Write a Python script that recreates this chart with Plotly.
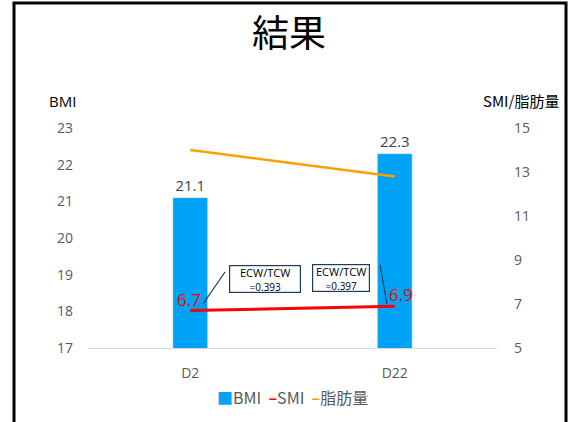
import plotly.graph_objects as go

categories = ["D2", "D22"]
bmi = [21.1, 22.3]
smi = [6.7, 6.9]
fat = [14.0, 12.8]
ecw_labels = ["ECW/TCW<br>=0.393", "ECW/TCW<br>=0.397"]
left_ticks = [17, 18, 19, 20, 21, 22, 23]
right_ticks = [5, 7, 9, 11, 13, 15]
series_names = ["BMI", "SMI", "脂肪量"]
series_colors = ["#00A2F5", "#FF0000", "#FFA000"]

W, H = 578, 422
def px(x):
    return x / W
def py(y):
    return 1 - y / H

FONT = "Noto Sans CJK JP, Open Sans, sans-serif"
TICK = dict(family="Open Sans, Noto Sans, sans-serif", size=14, color="#595959")

fig = go.Figure()
fig.add_trace(go.Bar(
    x=categories, y=bmi, name=series_names[0], marker_color=series_colors[0], width=0.17,
    text=[f"{v:.1f}" for v in bmi], textposition="outside",
    textfont=dict(family="Open Sans, sans-serif", size=15, color="#404040"),
    cliponaxis=False,
))
fig.add_trace(go.Scatter(
    x=categories, y=smi, name=series_names[1], yaxis="y2", mode="lines",
    line=dict(color=series_colors[1], width=3),
))
fig.add_trace(go.Scatter(
    x=categories, y=fat, name=series_names[2], yaxis="y2", mode="lines",
    line=dict(color=series_colors[2], width=2.5),
))

def ann(text, x, y, size, color="#000000", family=FONT, **kw):
    d = dict(text=text, x=x, y=y, xref="paper", yref="paper", showarrow=False,
             xanchor="center", yanchor="middle", font=dict(family=family, size=size, color=color))
    d.update(kw)
    return d

legend_text = (
    f"<span style='color:{series_colors[0]}'>■</span>{series_names[0]}  "
    f"<span style='color:{series_colors[1]}'><b>–</b></span>{series_names[1]}  "
    f"<span style='color:{series_colors[2]}'><b>–</b></span>{series_names[2]}"
)

annotations = [
    ann("結果", 0.5, py(31), 37),
    ann("BMI", px(62), py(101), 15, family="Open Sans, sans-serif"),
    ann("SMI/脂肪量", px(521), py(101), 15),
    ann(legend_text, px(292), py(397), 16, color="#595959"),
    dict(text=f"{smi[0]}", x=categories[0], y=smi[0], xref="x", yref="y2", showarrow=False,
         xanchor="right", yanchor="middle", yshift=11, xshift=13,
         font=dict(family="Open Sans, sans-serif", size=17, color="#FF0000")),
    dict(text=f"{smi[1]}", x=categories[1], y=smi[1], xref="x", yref="y2", showarrow=False,
         xanchor="left", yanchor="middle", yshift=12, xshift=-8,
         font=dict(family="Open Sans, sans-serif", size=17, color="#FF0000")),
]
box_specs = [(265, 279, 68), (341, 278, 54)]
for (bx, by, bw), lab in zip(box_specs, ecw_labels):
    t1, t2 = lab.split("<br>")
    annotations.append(ann(
        f"{t1}<br><span style='font-size:10px'>{t2}</span>", px(bx), py(by), 11,
        family="Open Sans, sans-serif", width=bw, height=24,
        bordercolor="#203864", borderwidth=1.2, borderpad=1, bgcolor="white",
    ))

shapes = [
    dict(type="rect", xref="paper", yref="paper", x0=px(14), x1=px(566), y0=py(3), y1=-0.1,
         line=dict(color="black", width=3), layer="above"),
    dict(type="line", xref="paper", yref="paper", x0=px(225), y0=py(272), x1=px(203), y1=py(304),
         line=dict(color="#203864", width=1.2)),
    dict(type="line", xref="paper", yref="paper", x0=px(380), y0=py(265), x1=px(387), y1=py(304),
         line=dict(color="#203864", width=1.2)),
]

fig.update_layout(
    width=W, height=H, margin=dict(l=0, r=0, t=0, b=0, autoexpand=False),
    paper_bgcolor="white", plot_bgcolor="white", showlegend=False,
    xaxis=dict(domain=[px(88), px(497)], showgrid=False, showline=True, linecolor="#D9D9D9",
               linewidth=1, tickfont=TICK, ticks="", ticklabelstandoff=12, automargin=False),
    yaxis=dict(domain=[1 - 348 / H, 1 - 128 / H], range=[17, 23], tickvals=left_ticks,
               showgrid=False, zeroline=False, tickfont=TICK, ticks="", ticklabelstandoff=14,
               automargin=False),
    yaxis2=dict(overlaying="y", side="right", range=[5, 15], tickvals=right_ticks,
                showgrid=False, zeroline=False, tickfont=TICK, ticks="", ticklabelstandoff=16,
                automargin=False),
    annotations=annotations, shapes=shapes,
)

fig.write_html("out.html")
